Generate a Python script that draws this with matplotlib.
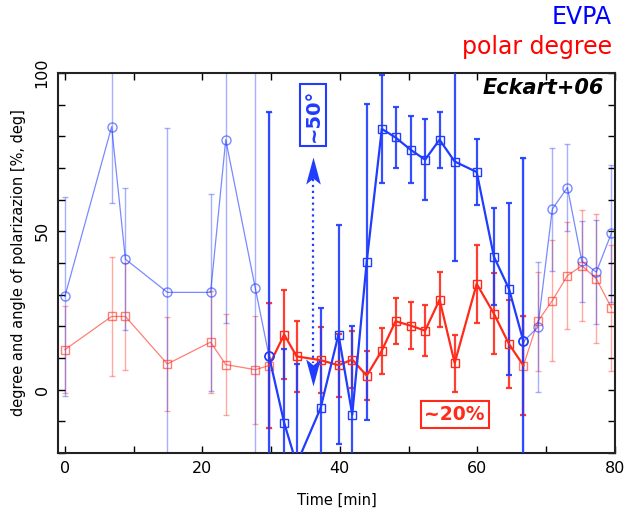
import numpy as np
import matplotlib
matplotlib.use("Agg")
import matplotlib.pyplot as plt
from matplotlib.path import Path
from matplotlib.ticker import MultipleLocator

# time [min] of the three segments (first and last point shared with middle)
t_early = [0, 6.8, 8.8, 14.9, 21.2, 23.4, 27.7, 29.7]
t_mid = [29.7, 31.9, 33.7, 37.2, 39.8, 41.8, 43.9, 46.1, 48.1, 50.3, 52.4,
         54.5, 56.7, 59.9, 62.4, 64.6, 66.7]
t_late = [66.7, 68.8, 70.9, 73.1, 75.2, 77.3, 79.5]

# EVPA [deg]
evpa_early = [29.4, 83.0, 41.2, 30.7, 30.7, 78.9, 32.0, 10.5]
evpa_early_err = [31.5, 24, 22.5, 52, 31, 58, 75, 77]
evpa_mid = [10.5, -10.5, -23.5, -5.8, 17.4, -7.9, 40.3, 82.3, 79.6, 75.7,
            72.6, 78.9, 72.0, 68.7, 42.0, 31.8, 15.2]
evpa_mid_err = [77, 23.3, 31.5, 31.6, 34.6, 28, 50, 17, 9.7, 10.6, 12.8,
                8.8, 31.5, 10.5, 15.3, 27.2, 58]
evpa_late = [15.2, 19.7, 57.0, 63.8, 40.5, 37.1, 49.4]
evpa_late_err = [58, 20.5, 19.4, 13.6, 12.8, 16.5, 21.6]

# polarization degree [%]
pol_early = [12.6, 23.1, 23.1, 8.1, 15.0, 7.9, 6.3, 7.6]
pol_early_err = [13.7, 18.9, 17, 14.8, 16, 16, 17, 19.8]
pol_mid = [7.6, 17.4, 10.5, 9.3, 7.7, 9.5, 4.4, 12.3, 21.6, 20.2, 18.6,
           28.4, 8.4, 33.4, 24.0, 14.4, 7.6]
pol_mid_err = [19.8, 14, 11.2, 10.4, 10, 9, 7.8, 7.3, 7.3, 7.4, 8, 8.6, 9,
               12.3, 12.9, 14, 15.6]
pol_late = [7.6, 21.6, 28.1, 36.0, 39.1, 35.0, 25.8]
pol_late_err = [15.6, 15.6, 19, 17, 17.5, 20.3, 19.8]

# the ~50 deg swing marker: x, arrow tips (top, bottom)
swing_x = 36.1
swing_tips = [73.5, 1.3]

BLUE = "#1f3cff"
RED = "#ff2a1a"


def faint(ax, t, y, err, color, marker, ms):
    ax.errorbar(t, y, yerr=err, fmt="none", ecolor=color, alpha=0.4,
                elinewidth=1.0, capsize=2, capthick=1.0, zorder=1)
    ax.plot(t, y, "-", color=color, alpha=0.6, lw=0.9, marker=marker,
            ms=ms, mfc="none", mew=1.0, zorder=2)


def bold(ax, t, y, err, color, ms):
    ax.errorbar(t, y, yerr=err, fmt="none", ecolor=color, alpha=0.9,
                elinewidth=1.6, capsize=2, capthick=1.6, zorder=3)
    ax.plot(t, y, "-", color=color, lw=1.6, marker="s", ms=ms, mfc="none",
            mew=1.0, markevery=slice(1, -1), zorder=4)


def stealth(up=True):
    s = 1 if up else -1
    verts = [(0, 0), (-0.27, -s), (0, -0.78 * s), (0.27, -s), (0, 0)]
    return Path(verts, [Path.MOVETO] + [Path.LINETO] * 3 + [Path.CLOSEPOLY])


fig = plt.figure(figsize=(6.25, 5.13), dpi=100)
ax = fig.add_axes([0.0928, 0.117, 0.891, 0.741])

faint(ax, t_early, pol_early, pol_early_err, RED, "s", 6)
faint(ax, t_late, pol_late, pol_late_err, RED, "s", 6)
faint(ax, t_early, evpa_early, evpa_early_err, BLUE, "o", 6.5)
faint(ax, t_late, evpa_late, evpa_late_err, BLUE, "o", 6.5)
bold(ax, t_mid, pol_mid, pol_mid_err, RED, 6)
bold(ax, t_mid, evpa_mid, evpa_mid_err, BLUE, 6)
ax.plot([t_mid[0], t_mid[-1]], [evpa_mid[0], evpa_mid[-1]], "o", color=BLUE,
        ms=6.5, mfc="none", mew=1.2, zorder=5)

# ~50 deg swing arrow
ax.plot([swing_x, swing_x], [swing_tips[0] - 7, swing_tips[1] + 7], ls=":",
        color=BLUE, lw=1.6, zorder=6)
ax.plot(swing_x, swing_tips[0], marker=stealth(True), ms=39, color=BLUE,
        mew=0, zorder=6)
ax.plot(swing_x, swing_tips[1], marker=stealth(False), ms=39, color=BLUE,
        mew=0, zorder=6)
ax.text(swing_x, 86.7, "~50°", rotation=90, ha="center", va="center",
        color=BLUE, fontsize=14, fontweight="bold", zorder=7,
        bbox=dict(boxstyle="square,pad=0.2", fc="white", ec=BLUE, lw=1.5))
ax.text(56.7, -7.9, "~20%", ha="center", va="center", color=RED,
        fontsize=13.5, fontweight="bold", zorder=7,
        bbox=dict(boxstyle="square,pad=0.2", fc="white", ec=RED, lw=1.5))
ax.text(0.98, 0.96, "Eckart+06", transform=ax.transAxes, ha="right",
        va="center", fontsize=15, fontweight="bold", style="italic", zorder=7)

fig.text(0.979, 0.967, "EVPA", color="blue", fontsize=17, ha="right",
         va="center")
fig.text(0.979, 0.908, "polar degree", color="red", fontsize=17,
         ha="right", va="center")

ax.set_xlim(-1, 80)
ax.set_ylim(-20, 100)
ax.xaxis.set_major_locator(MultipleLocator(20))
ax.xaxis.set_minor_locator(MultipleLocator(10))
ax.yaxis.set_major_locator(MultipleLocator(50))
ax.yaxis.set_minor_locator(MultipleLocator(10))
ax.tick_params(which="both", direction="in", top=True, right=True,
               length=5, width=1.0, labelsize=11.5, pad=6)
for lab in ax.get_yticklabels():
    lab.set_rotation(90)
    lab.set_va("center")
for spine in ax.spines.values():
    spine.set_linewidth(1.5)
    spine.set_color("#222222")

ax.set_xlabel("Time [min]", fontsize=10.5, labelpad=12)
ax.set_ylabel("degree and angle of polarizazion [%, deg]", fontsize=10.5,
              labelpad=6)

fig.savefig("out.png", dpi=100)
